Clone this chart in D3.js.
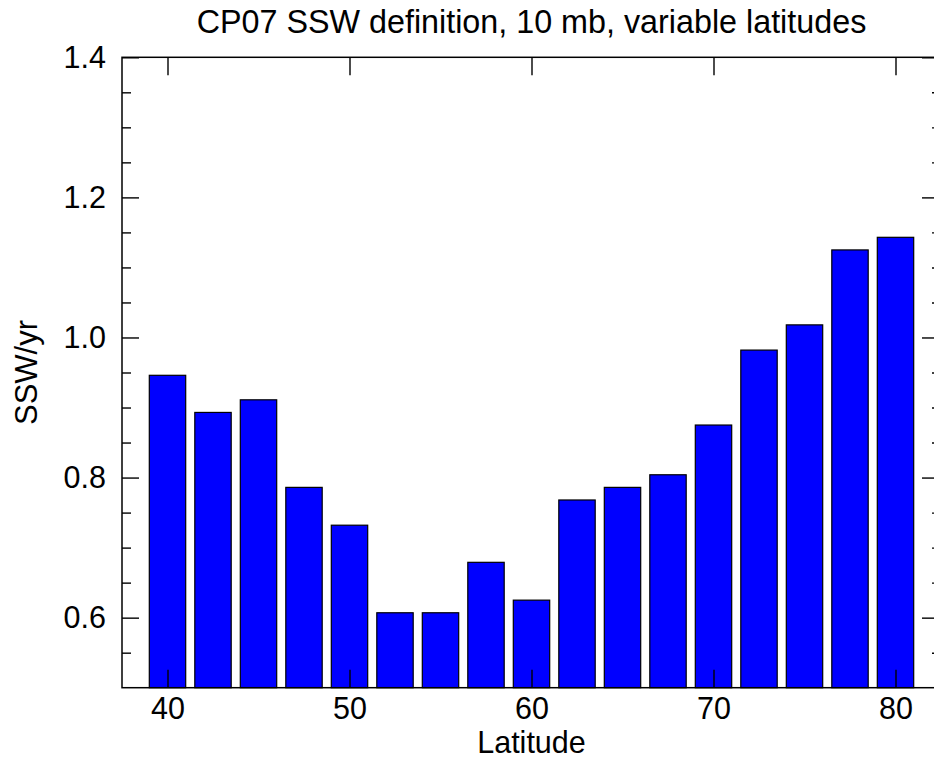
<!DOCTYPE html>
<html>
<head>
<meta charset="utf-8">
<script src="https://cdn.jsdelivr.net/npm/d3@7"></script>
<style>
  html, body { margin: 0; padding: 0; background: #fff; }
  svg { display: block; }
  text { font-family: "Liberation Sans", Arial, Helvetica, sans-serif; fill: #000; }
</style>
</head>
<body>
<script>
// chart data
var latitudes = [40, 42.5, 45, 47.5, 50, 52.5, 55, 57.5, 60, 62.5, 65, 67.5, 70, 72.5, 75, 77.5, 80];
var sswPerYear = [0.946, 0.893, 0.911, 0.786, 0.732, 0.607, 0.607, 0.679, 0.625, 0.768, 0.786, 0.804, 0.875, 0.982, 1.018, 1.125, 1.143];
var xTicks = [40, 50, 60, 70, 80];
var yTicks = [0.6, 0.8, 1.0, 1.2, 1.4];
var yMinorTicks = [0.55, 0.65, 0.7, 0.75, 0.85, 0.9, 0.95, 1.05, 1.1, 1.15, 1.25, 1.3, 1.35];
var xDomain = [37.5, 82.5];
var yDomain = [0.5, 1.4];

var width = 934, height = 760;
var margin = { top: 57.3, left: 122, right: -7, bottom: 72.3 };
var plotW = width - margin.left - margin.right;
var plotH = height - margin.top - margin.bottom;

var svg = d3.select("body").append("svg")
    .attr("width", width)
    .attr("height", height);

var g = svg.append("g")
    .attr("transform", "translate(" + margin.left + "," + margin.top + ")");

var x = d3.scaleLinear().domain(xDomain).range([0, plotW]);
var y = d3.scaleLinear().domain(yDomain).range([plotH, 0]);

var halfBar = 1.0; // bar half width in degrees

// bars
g.selectAll(".bar")
    .data(latitudes)
    .enter().append("rect")
    .attr("class", "bar")
    .attr("x", function (d) { return x(d - halfBar); })
    .attr("width", function (d) { return x(d + halfBar) - x(d - halfBar); })
    .attr("y", function (d, i) { return y(sswPerYear[i]); })
    .attr("height", function (d, i) { return plotH - y(sswPerYear[i]); })
    .attr("fill", "#0000ff")
    .attr("stroke", "#000")
    .attr("stroke-width", 1.2);

// axes, ticks pointing inward
function styleAxis(sel) {
    sel.select(".domain").remove();
    sel.selectAll(".tick line").attr("stroke", "#000").attr("stroke-width", 1.4);
    sel.selectAll(".tick text").attr("font-size", 30.5).attr("fill", "#000")
        .style("font-family", "'Liberation Sans', Arial, Helvetica, sans-serif");
}

var fmt = d3.format(".1f");

g.append("g")
    .attr("transform", "translate(0," + plotH + ")")
    .call(d3.axisBottom(x).tickValues(xTicks).tickSizeInner(-18).tickSizeOuter(0).tickPadding(9.5))
    .call(styleAxis);

g.append("g")
    .call(d3.axisTop(x).tickValues(xTicks).tickSizeInner(-18).tickSizeOuter(0).tickFormat(""))
    .call(styleAxis);

g.append("g")
    .call(d3.axisLeft(y).tickValues(yTicks).tickSizeInner(-17).tickSizeOuter(0).tickPadding(16).tickFormat(fmt))
    .call(styleAxis);

g.append("g")
    .call(d3.axisLeft(y).tickValues(yMinorTicks).tickSizeInner(-9).tickSizeOuter(0).tickFormat(""))
    .call(styleAxis);

g.append("g")
    .attr("transform", "translate(" + plotW + ",0)")
    .call(d3.axisRight(y).tickValues(yTicks).tickSizeInner(-19).tickSizeOuter(0).tickFormat(""))
    .call(styleAxis);

g.append("g")
    .attr("transform", "translate(" + plotW + ",0)")
    .call(d3.axisRight(y).tickValues(yMinorTicks).tickSizeInner(-9).tickSizeOuter(0).tickFormat(""))
    .call(styleAxis);

// frame
g.append("rect")
    .attr("width", plotW)
    .attr("height", plotH)
    .attr("fill", "none")
    .attr("stroke", "#000")
    .attr("stroke-width", 1.5);

// title and axis labels
svg.append("text")
    .attr("x", margin.left + plotW / 2)
    .attr("y", 33)
    .attr("text-anchor", "middle")
    .attr("font-size", 32.3)
    .text("CP07 SSW definition, 10 mb, variable latitudes");

svg.append("text")
    .attr("x", margin.left + plotW / 2)
    .attr("y", 753.3)
    .attr("text-anchor", "middle")
    .attr("font-size", 30.5)
    .text("Latitude");

svg.append("text")
    .attr("transform", "translate(37," + (margin.top + plotH / 2) + ") rotate(-90)")
    .attr("text-anchor", "middle")
    .attr("font-size", 31)
    .text("SSW/yr");
</script>
</body>
</html>
